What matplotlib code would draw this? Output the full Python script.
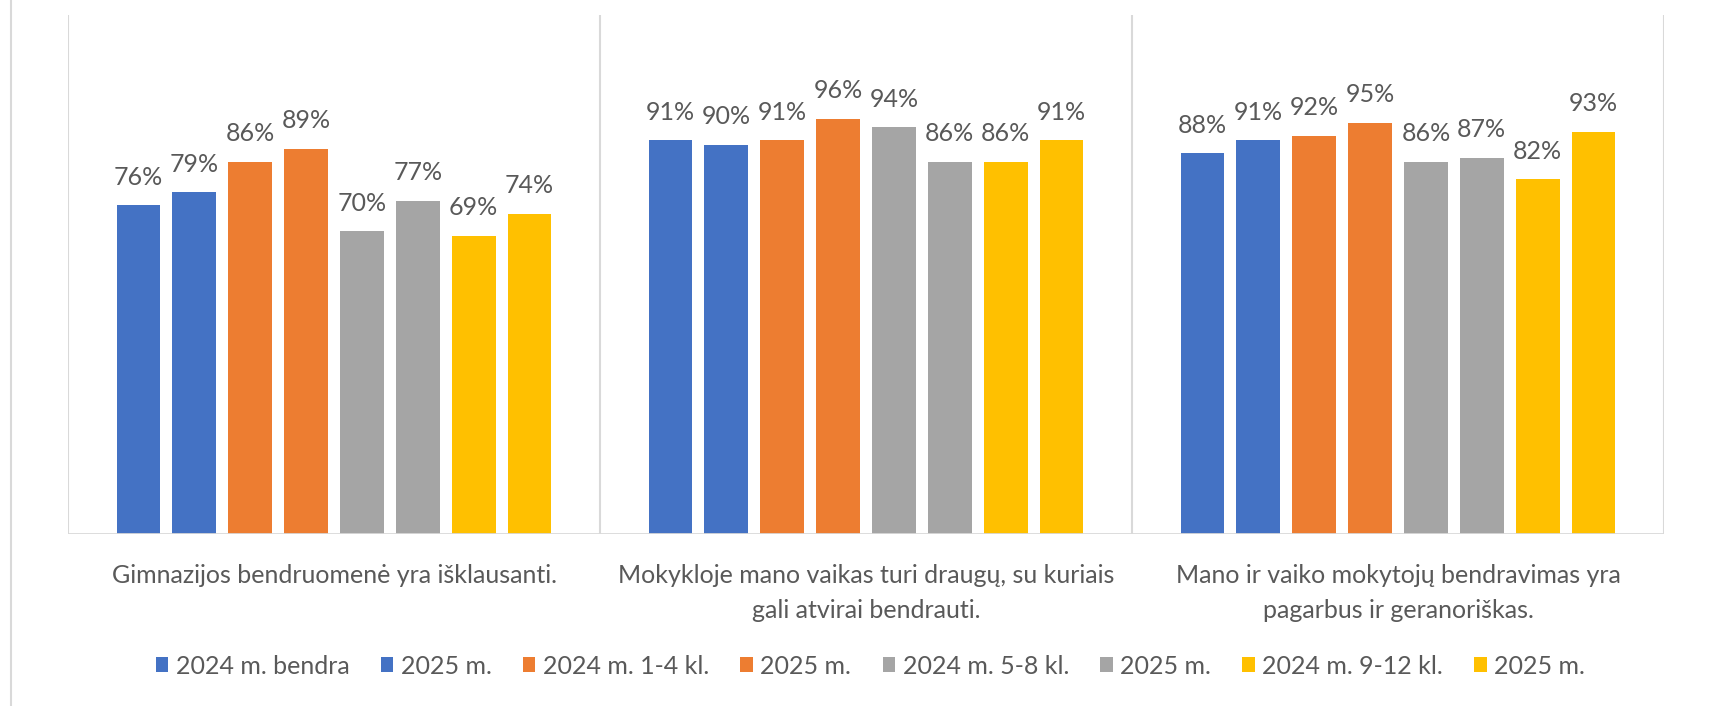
import matplotlib
matplotlib.use("Agg")
import matplotlib.pyplot as plt
import numpy as np
from matplotlib.patches import Patch
from matplotlib.lines import Line2D

plt.rcParams['font.family'] = ['Lato', 'DejaVu Sans']

categories = [
    "Gimnazijos bendruomenė yra išklausanti.",
    "Mokykloje mano vaikas turi draugų, su kuriais\ngali atvirai bendrauti.",
    "Mano ir vaiko mokytojų bendravimas yra\npagarbus ir geranoriškas.",
]
series_names = ["2024 m. bendra", "2025 m.", "2024 m. 1-4 kl.", "2025 m.",
                "2024 m. 5-8 kl.", "2025 m.", "2024 m. 9-12 kl.", "2025 m."]
series_colors = ["#4472C4", "#4472C4", "#ED7D31", "#ED7D31",
                 "#A5A5A5", "#A5A5A5", "#FFC000", "#FFC000"]
# values per series (rows) across the three categories (columns)
values = [
    [0.76, 0.91, 0.88],
    [0.79, 0.90, 0.91],
    [0.86, 0.91, 0.92],
    [0.89, 0.96, 0.95],
    [0.70, 0.94, 0.86],
    [0.77, 0.86, 0.87],
    [0.69, 0.86, 0.82],
    [0.74, 0.91, 0.93],
]

W, H = 1717, 706
fig = plt.figure(figsize=(W/100, H/100), dpi=100)
ax = fig.add_axes([68/W, 1-534/H, (1664-68)/W, (534-15)/H])

text_color = "#595959"
line_color = "#D9D9D9"
fs = 18
n = len(series_names)
slot = 0.105
bw = 0.0823
x = np.arange(len(categories))
for i, (vals, col) in enumerate(zip(values, series_colors)):
    offs = (i - (n - 1) / 2) * slot
    bars = ax.bar(x + offs, vals, width=bw, color=col, zorder=3)
    for b, v in zip(bars, vals):
        ax.annotate(f"{round(v*100):d}%", (b.get_x() + b.get_width()/2, v),
                    xytext=(0, 12), textcoords="offset points",
                    ha="center", va="bottom", fontsize=fs, color=text_color)

ax.set_xlim(-0.5, len(categories) - 0.5)
ax.set_ylim(0, 1.2)
for s in ax.spines.values():
    s.set_visible(False)
ax.set_yticks([])
ax.set_xticks([])
# category separators
for b in np.arange(len(categories) + 1) - 0.5:
    ax.axvline(b, color=line_color, lw=1.5, zorder=1)
ax.axhline(0, color=line_color, lw=2, zorder=4)

for xi, c in zip(x, categories):
    ax.text(xi, -0.07, c, ha="center", va="top", multialignment="center",
            fontsize=fs, color=text_color, linespacing=1.6)

# outer chart border fragment on the left
fig.add_artist(Line2D([11/W, 11/W], [0, 1], color=line_color, lw=1.5))

handles = [Patch(facecolor=c, edgecolor="none") for c in series_colors]
fig.legend(handles, series_names, loc="center", bbox_to_anchor=(0.507, 1-666/H),
           ncol=n, frameon=False, fontsize=fs, labelcolor=text_color,
           handlelength=0.5, handleheight=0.55, handletextpad=0.3, columnspacing=1.25)

fig.savefig("out.png", dpi=100)
